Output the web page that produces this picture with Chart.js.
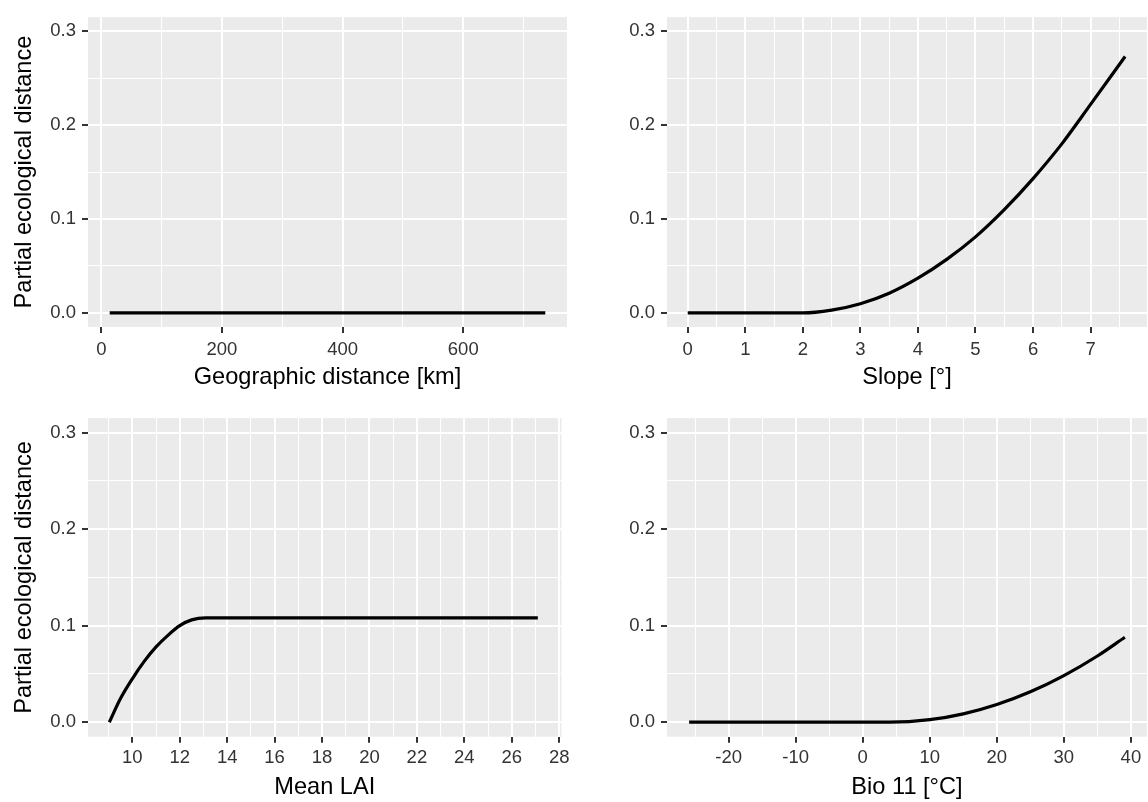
<!DOCTYPE html>
<html lang="en">
<head>
  <meta charset="UTF-8">
  <title>Partial ecological distance</title>
  <script src="https://cdn.jsdelivr.net/npm/chart.js"></script>
  <style>
    body { margin: 0; background: #fff; }
    .wrap { position: relative; width: 1148px; height: 802px; }
    .wrap canvas { position: absolute; }
  </style>
</head>
<body>
  <div class="wrap">
    <canvas id="geoChart" width="574" height="401" style="left:0;top:0"></canvas>
    <canvas id="slopeChart" width="574" height="401" style="left:574px;top:0"></canvas>
    <canvas id="laiChart" width="574" height="401" style="left:0;top:401px"></canvas>
    <canvas id="bioChart" width="574" height="401" style="left:574px;top:401px"></canvas>
  </div>

  <script>
    // y axis (shared by all four panels)
    const yMajor = [0, 0.1, 0.2, 0.3];
    const yMinor = [0.05, 0.15, 0.25];

    // Geographic distance [km]
    const geoX = [14, 100, 200, 300, 400, 500, 600, 700, 736];
    const geoY = [0, 0, 0, 0, 0, 0, 0, 0, 0];
    const geoMajor = [0, 200, 400, 600];
    const geoMinor = [100, 300, 500, 700];

    // Slope [°]
    const slopeX = [0, 0.5, 1, 1.5, 2, 2.5, 3, 3.5, 4, 4.5, 5, 5.5, 6, 6.5, 7, 7.6];
    const slopeY = [0, 0, 0, 0, 0, 0.003, 0.0098, 0.021, 0.037, 0.057, 0.081, 0.11, 0.143, 0.18, 0.222, 0.273];
    const slopeMajor = [0, 1, 2, 3, 4, 5, 6, 7];
    const slopeMinor = [0.5, 1.5, 2.5, 3.5, 4.5, 5.5, 6.5, 7.5];

    // Mean LAI
    const laiX = [9.03, 9.5, 10, 10.5, 11, 11.5, 12, 12.5, 13.1, 16, 20, 24, 27.1];
    const laiY = [0, 0.0245, 0.045, 0.063, 0.078, 0.09, 0.1, 0.106, 0.108, 0.108, 0.108, 0.108, 0.108];
    const laiMajor = [10, 12, 14, 16, 18, 20, 22, 24, 26, 28];
    const laiMinor = [9, 11, 13, 15, 17, 19, 21, 23, 25, 27];

    // Bio 11 [°C]
    const bioX = [-25.9, -20, -10, 0, 4, 10, 15, 20, 25, 30, 35, 39.1];
    const bioY = [0, 0, 0, 0, 0, 0.0026, 0.0086, 0.0183, 0.0315, 0.0483, 0.0686, 0.088];
    const bioMajor = [-20, -10, 0, 10, 20, 30, 40];
    const bioMinor = [-25, -15, -5, 5, 15, 25, 35];

    const FONT = "'Liberation Sans', Arial, sans-serif";

    // grey panel like ggplot
    const panelBg = {
      id: 'panelBg',
      beforeDraw(chart) {
        const a = chart.chartArea;
        const ctx = chart.ctx;
        ctx.save();
        ctx.fillStyle = '#EBEBEB';
        ctx.fillRect(a.left, a.top, a.right - a.left, a.bottom - a.top);
        ctx.restore();
      }
    };

    function axisTicks(major, minor) {
      return major.concat(minor).sort((a, b) => a - b);
    }

    function isMajor(major, v) {
      return major.some(m => Math.abs(m - v) < 1e-9);
    }

    function makePanel(id, xs, ys, p) {
      const xTicks = axisTicks(p.xMajor, p.xMinor);
      const yTicks = axisTicks(yMajor, yMinor);
      new Chart(document.getElementById(id), {
        type: 'line',
        data: {
          datasets: [{
            data: xs.map((x, i) => ({ x: x, y: ys[i] })),
            borderColor: '#000',
            borderWidth: 3.2,
            pointRadius: 0,
            cubicInterpolationMode: 'monotone',
            fill: false
          }]
        },
        options: {
          responsive: false,
          animation: false,
          layout: { padding: { top: p.top, right: p.right, left: 0, bottom: 0 } },
          plugins: { legend: { display: false }, tooltip: { enabled: false } },
          scales: {
            x: {
              type: 'linear',
              min: p.xMin,
              max: p.xMax,
              afterBuildTicks: s => { s.ticks = xTicks.map(v => ({ value: v })); },
              afterFit: s => { s.height = p.xHeight; },
              border: { display: false },
              grid: {
                color: '#FFFFFF',
                lineWidth: c => isMajor(p.xMajor, c.tick.value) ? 2 : 1,
                tickLength: 6,
                tickColor: c => isMajor(p.xMajor, c.tick.value) ? '#333333' : 'rgba(0,0,0,0)',
                tickWidth: 2
              },
              ticks: {
                autoSkip: false,
                maxRotation: 0,
                padding: p.xPad,
                color: '#333333',
                font: { family: FONT, size: 18.5 },
                callback: v => isMajor(p.xMajor, v) ? String(v) : ''
              },
              title: {
                display: true,
                text: p.xTitle,
                color: '#000',
                font: { family: FONT, size: 23.6 },
                padding: { top: 0, bottom: p.xTitlePad }
              }
            },
            y: {
              type: 'linear',
              min: -0.015,
              max: 0.315,
              afterBuildTicks: s => { s.ticks = yTicks.map(v => ({ value: v })); },
              afterFit: s => { s.width = p.yWidth; },
              border: { display: false },
              grid: {
                color: '#FFFFFF',
                lineWidth: c => isMajor(yMajor, c.tick.value) ? 2 : 1,
                tickLength: 6,
                tickColor: c => isMajor(yMajor, c.tick.value) ? '#333333' : 'rgba(0,0,0,0)',
                tickWidth: 2
              },
              ticks: {
                autoSkip: false,
                padding: 6,
                color: '#333333',
                font: { family: FONT, size: 18.5 },
                callback: v => isMajor(yMajor, v) ? v.toFixed(1) : ''
              },
              title: {
                display: p.yTitle !== '',
                text: p.yTitle,
                color: '#000',
                font: { family: FONT, size: 23.6 },
                padding: { top: 10.5, bottom: 0 }
              }
            }
          }
        },
        plugins: [panelBg]
      });
    }

    makePanel('geoChart', geoX, geoY, {
      xMin: -22, xMax: 772, xMajor: geoMajor, xMinor: geoMinor,
      xTitle: 'Geographic distance [km]', yTitle: 'Partial ecological distance',
      top: 8, right: 7, yWidth: 88, xHeight: 74, xPad: 5.5, xTitlePad: 9.8
    });
    makePanel('slopeChart', slopeX, slopeY, {
      xMin: -0.36, xMax: 7.98, xMajor: slopeMajor, xMinor: slopeMinor,
      xTitle: 'Slope [°]', yTitle: '',
      top: 8, right: 1, yWidth: 93, xHeight: 74, xPad: 5.5, xTitlePad: 9.8
    });
    makePanel('laiChart', laiX, laiY, {
      xMin: 8.13, xMax: 28.1, xMajor: laiMajor, xMinor: laiMinor,
      xTitle: 'Mean LAI', yTitle: 'Partial ecological distance',
      top: 16.7, right: 7, yWidth: 88, xHeight: 65.3, xPad: 4.5, xTitlePad: 0.8
    });
    makePanel('bioChart', bioX, bioY, {
      xMin: -29.2, xMax: 42.4, xMajor: bioMajor, xMinor: bioMinor,
      xTitle: 'Bio 11 [°C]', yTitle: '',
      top: 16.7, right: 1, yWidth: 93, xHeight: 65.3, xPad: 4.5, xTitlePad: 0.8
    });
  </script>
</body>
</html>
